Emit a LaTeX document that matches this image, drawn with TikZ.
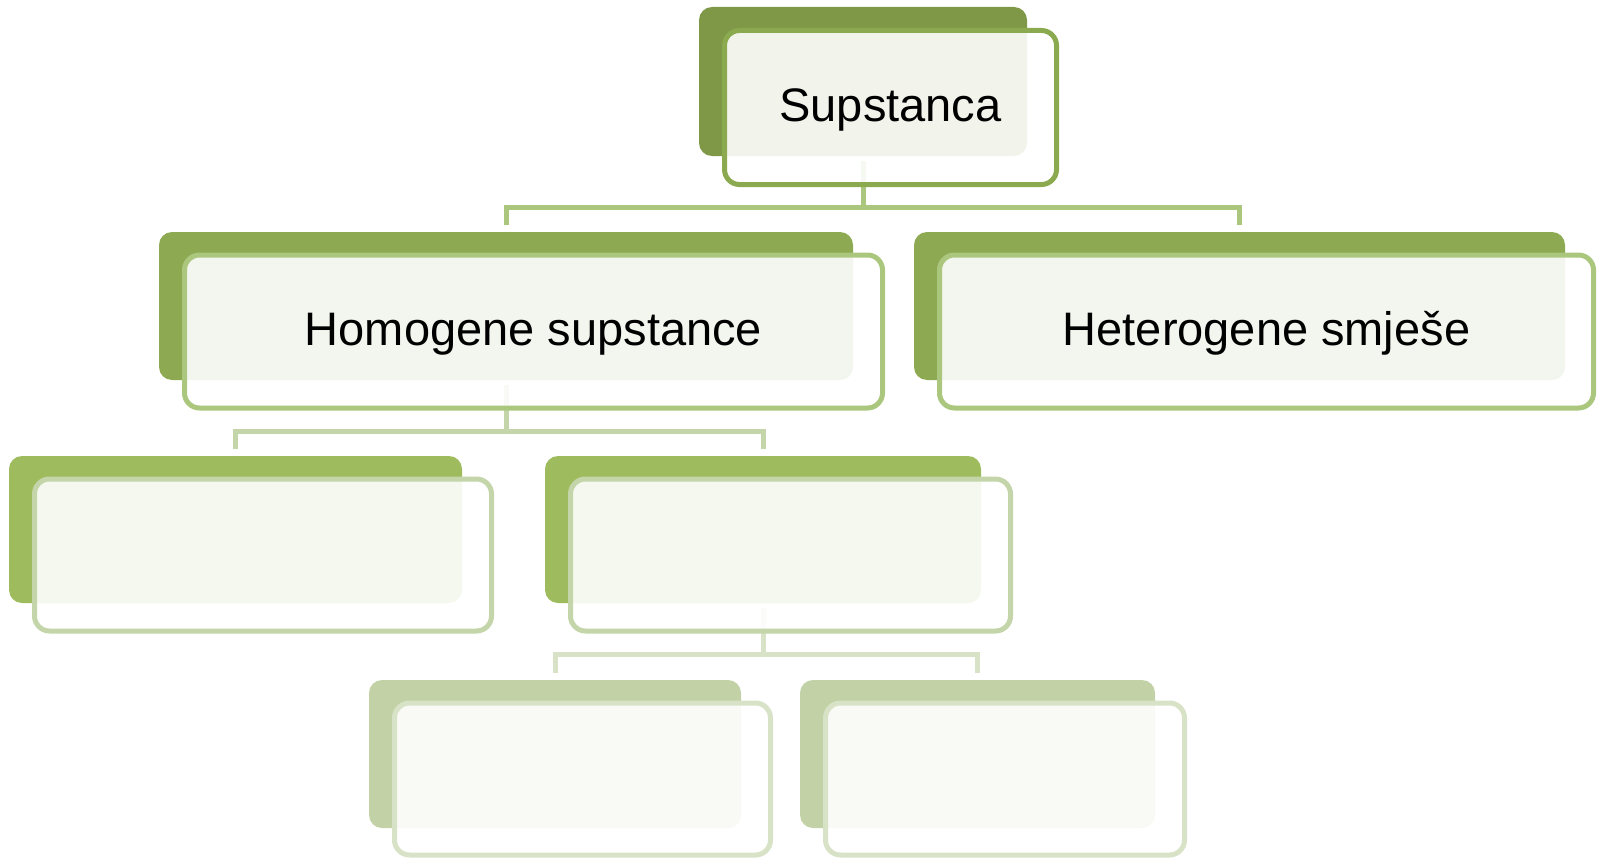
\documentclass[tikz,border=0pt]{standalone}
\usepackage{fontspec}
\setmainfont{Liberation Sans}
\usetikzlibrary{calc}

% level colours: solid back plate, outline of the front card, connector
\definecolor{backA}{HTML}{7F9847}
\definecolor{lineA}{HTML}{8BAA4F}
\definecolor{backB}{HTML}{8DA952}
\definecolor{lineB}{HTML}{ABC77E}
\definecolor{backC}{HTML}{9EBC5E}
\definecolor{lineC}{HTML}{C3D5A9}
\definecolor{backD}{HTML}{C2D2A6}
\definecolor{lineD}{HTML}{D8E2C7}

\tikzset{
  x=1pt, y=-1pt,
  backbox/.style={rectangle, draw=none, rounded corners=13pt, inner sep=0pt,
    outer sep=0pt, anchor=north west},
  frontbox/.style={rectangle, line width=5pt, fill=white, fill opacity=0.9,
    text opacity=1, rounded corners=15pt, inner sep=0pt, outer sep=0pt,
    anchor=north west, align=center,
    font=\fontsize{47}{56}\selectfont, text height=34pt, text depth=6pt},
  conn/.style={line width=5pt, line join=miter}
}

\begin{document}
\begin{tikzpicture}
\useasboundingbox (0,0) rectangle (1597,859);

% back plates
\node[backbox, fill=backA, minimum width=328pt, minimum height=149pt] (sB) at (699,7) {};
\node[backbox, fill=backB, minimum width=694pt, minimum height=148pt] (hoB) at (159,232) {};
\node[backbox, fill=backB, minimum width=651pt, minimum height=148pt] (heB) at (914,232) {};
\node[backbox, fill=backC, minimum width=453pt, minimum height=147pt] (lB) at (9,456) {};
\node[backbox, fill=backC, minimum width=436pt, minimum height=147pt] (rB) at (545,456) {};
\node[backbox, fill=backD, minimum width=372pt, minimum height=148pt] (llB) at (369,680) {};
\node[backbox, fill=backD, minimum width=355pt, minimum height=148pt] (lrB) at (800,680) {};

% connectors
\draw[conn, draw=lineB] ([yshift=-5pt]sB.south) -- ++(0,46) -| ([yshift=7pt]hoB.north);
\draw[conn, draw=lineB] ([yshift=-5pt]sB.south) -- ++(0,46) -| ([yshift=7pt]heB.north);
\draw[conn, draw=lineC] ([yshift=-5pt]hoB.south) -- ++(0,46) -| ([yshift=7pt]lB.north);
\draw[conn, draw=lineC] ([yshift=-5pt]hoB.south) -- ++(0,46) -| ([yshift=7pt]rB.north);
\draw[conn, draw=lineD] ([yshift=-5pt]rB.south) -- ++(0,46) -| ([yshift=7pt]llB.north);
\draw[conn, draw=lineD] ([yshift=-5pt]rB.south) -- ++(0,46) -| ([yshift=7pt]lrB.north);

% front cards
\node[frontbox, draw=lineA, minimum width=332pt, minimum height=154pt] (s) at (724.5,30.5) {Supstanca};
\node[frontbox, draw=lineB, minimum width=698pt, minimum height=153pt] (ho) at (184.5,255) {Homogene supstance};
\node[frontbox, draw=lineB, minimum width=654pt, minimum height=153pt] (he) at (939.5,255) {Heterogene smješe};
\node[frontbox, draw=lineC, minimum width=457pt, minimum height=152pt] (l) at (34.5,479) {};
\node[frontbox, draw=lineC, minimum width=440pt, minimum height=152pt] (r) at (570.5,479) {};
\node[frontbox, draw=lineD, minimum width=376pt, minimum height=152pt] (ll) at (394.5,703) {};
\node[frontbox, draw=lineD, minimum width=359pt, minimum height=152pt] (lr) at (825.5,703) {};
\end{tikzpicture}
\end{document}
